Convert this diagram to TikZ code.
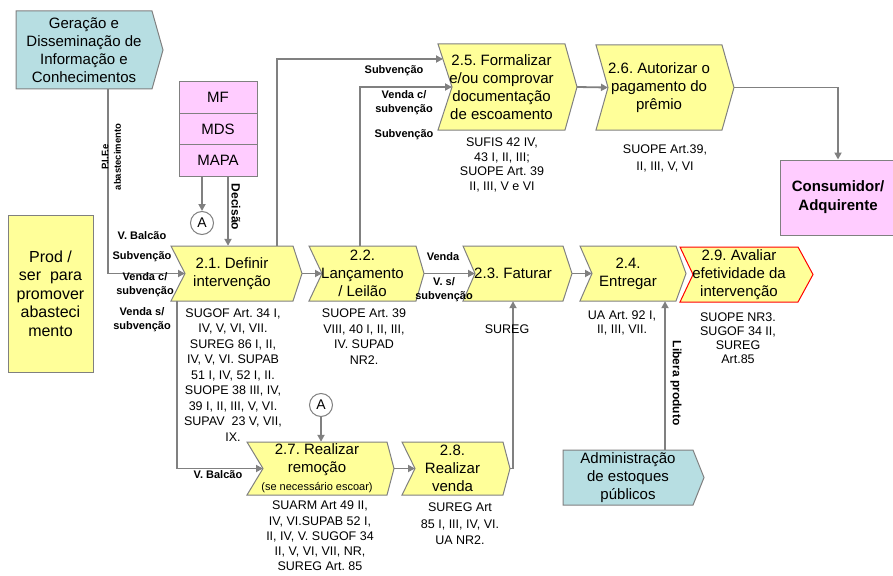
\documentclass[tikz,border=0pt]{standalone}
\usepackage{fontspec}
\setmainfont{Liberation Sans}
\usetikzlibrary{arrows.meta,calc}
\frenchspacing
\definecolor{ylw}{RGB}{255,255,153}
\definecolor{pnk}{RGB}{255,204,255}
\definecolor{tea}{RGB}{183,222,226}
\definecolor{brd}{RGB}{128,128,128}
\definecolor{cn}{RGB}{128,128,128}
\tikzset{
 chev/.style={draw=brd, line width=1pt, fill=ylw, line join=miter},
 chevtext/.style={inner sep=0pt, align=center, font=\fontsize{15}{18}\selectfont},
 reftxt/.style={align=center, inner sep=0pt, font=\fontsize{12.5}{15.5}\selectfont},
 lbl/.style={align=center, inner sep=0pt, font=\bfseries\fontsize{11}{14.5}\selectfont},
 conn/.style={draw=cn, line width=1.8pt, -{Triangle[length=7pt,width=7pt]}},
 pbox/.style={draw=brd, line width=1pt, fill=pnk, minimum width=78pt, minimum height=31.5pt, inner sep=0pt, font=\fontsize{15}{18}\selectfont},
 circA/.style={circle, draw=brd, line width=1pt, fill=white, minimum size=23pt, inner sep=0pt, font=\fontsize{14}{14}\selectfont}
}
\newcommand{\chev}[9][]{%
 \pgfmathsetmacro{\chevYm}{(#5+#6)/2}%
 \pgfmathsetmacro{\chevXn}{#3+#7}%
 \pgfmathsetmacro{\chevXt}{#4+#8}%
 \pgfmathsetmacro{\chevXc}{(#3+#4)/2}%
 \pgfmathsetmacro{\chevW}{#4-#3}%
 \pgfmathsetmacro{\chevH}{#6-#5}%
 \draw[chev,#1] (#3,#5) -- (#4,#5) -- (\chevXt,\chevYm) -- (#4,#6) -- (#3,#6) -- (\chevXn,\chevYm) -- cycle;
 \coordinate (#2-in) at (\chevXn,\chevYm);
 \coordinate (#2-out) at (\chevXt,\chevYm);
 \node[chevtext, minimum width=\chevW pt, minimum height=\chevH pt] (#2) at (\chevXc,\chevYm) {#9};
}
\begin{document}
\begin{tikzpicture}[x=1pt,y=-1pt]
\useasboundingbox (0,0) rectangle (893,575);
% source / sink boxes
\chev[fill=tea]{gera}{16}{152}{11}{89}{0}{11}{Geração e\\Disseminação de\\Informação e\\Conhecimentos}
\chev[fill=tea]{admin}{563}{693}{450}{505}{0}{11}{Administração\\de estoques\\públicos}
\node[draw=brd, line width=1pt, fill=ylw, minimum width=85pt, minimum height=157pt, inner sep=0pt, align=center, font=\fontsize{16}{18.5}\selectfont] (prod) at (50.5,293.5) {Prod /\\ser~ para\\promover\\abasteci\\mento};
\node[draw=brd, line width=1pt, fill=pnk, minimum width=116pt, minimum height=75pt, inner sep=0pt, align=center, font=\bfseries\fontsize{15}{19}\selectfont] (cons) at (838,197.5) {Consumidor/\\Adquirente};
\node[pbox] (mf) at (218,97.5) {MF};
\node[pbox] (mds) at (218,129) {MDS};
\node[pbox] (mapa) at (218,160.5) {MAPA};
% process chevrons
\chev{c21}{171}{293}{246}{301}{14}{9}{2.1. Definir\\intervenção}
\chev{c22}{309}{416}{246}{301}{13}{8}{2.2.\\Lançamento\\/ Leilão}
\chev{c23}{463}{563}{246}{301}{12}{9}{2.3. Faturar}
\chev{c24}{580}{676}{246}{301}{12}{10}{2.4.\\Entregar}
\chev[draw=red]{c29}{680}{798}{247}{302}{13}{15}{2.9. Avaliar\\efetividade da\\intervenção}
\chev{c25}{438}{565}{44}{130}{14}{12}{2.5. Formalizar\\e/ou comprovar\\documentação\\de escoamento}
\chev{c26}{596}{722}{45}{130}{12}{12}{2.6. Autorizar o\\pagamento do\\prêmio}
\chev{c27}{247}{387}{442}{495}{16}{7}{2.7. Realizar\\remoção\\{\fontsize{11}{12}\selectfont (se necessário escoar)}}
\chev{c28}{402}{503}{442}{495}{13}{7}{2.8.\\Realizar\\venda}
% connector circles
\node[circA] (a1) at (202,223) {A};
\node[circA] (a2) at (321,405) {A};
% bend coordinates
\coordinate (pif) at (108,0);
\coordinate (dec) at (228,0);
\coordinate (k1) at (277,0);
\coordinate (k1e) at (443,59);
\coordinate (k2) at (360,0);
\coordinate (k3) at (177,0);
\coordinate (lib) at (665,0);
% connectors
\draw[conn] (gera.south -| pif) |- (c21-in);
\draw[conn] (mapa.south -| a1) -- (a1.north);
\draw[conn] (mapa.south -| dec) -- (c21.north -| dec);
\draw[conn] (c21.north -| k1) |- (k1e);
\draw[conn] (c22.north -| k2) |- (c25-in);
\draw[conn] (c21-out) -- (c22-in);
\draw[conn] (c22-out) -- (c23-in);
\draw[conn] (c23-out) -- (c24-in);
\draw[conn] (c25-out) -- (c26-in);
\draw[conn] (c26-out) -| (cons.north);
\draw[conn] (c21.south -| k3) |- (c27-in);
\draw[conn] (a2.south) -- (c27.north -| a2);
\draw[conn] (c27-out) -- (c28-in);
\draw[conn] (c28-out) -| (c23.south);
\draw[conn] (admin.north -| lib) -- (c24.south -| lib);
% connector labels
\node[lbl, rotate=90, font=\bfseries\fontsize{9.5}{12.5}\selectfont] (lpif) at (111.5,157) {P.I.F.e\\abastecimento};
\node[lbl, rotate=-90, font=\bfseries\fontsize{12}{14}\selectfont] (ldec) at (236,207) {Decisão};
\node[lbl, rotate=-90, font=\bfseries\fontsize{12}{14}\selectfont] (llib) at (676,383) {Libera produto};
\node[lbl] (l1) at (394,71) {Subvenção};
\node[lbl] (l2) at (404,102.5) {Venda c/\\subvenção};
\node[lbl] (l3) at (404,135) {Subvenção};
\node[lbl] (l4) at (443,257) {Venda};
\node[lbl] (l5) at (444,289.5) {V. s/\\subvenção};
\node[lbl] (l6) at (142,236) {V. Balcão};
\node[lbl] (l7) at (142,257) {Subvenção};
\node[lbl] (l8) at (145,284.5) {Venda c/\\subvenção};
\node[lbl] (l9) at (142,319.5) {Venda s/\\subvenção};
\node[lbl] (l10) at (218,475) {V. Balcão};
% regulation texts
\node[reftxt] (r21) at (233,375) {SUGOF Art. 34 I,\\IV, V, VI, VII.\\SUREG 86 I, II,\\IV, V, VI. SUPAB\\51 I, IV, 52 I, II.\\SUOPE 38 III, IV,\\39 I, II, III, V, VI.\\SUPAV~ 23 V, VII,\\IX.};
\node[reftxt] (r22) at (364,336.5) {SUOPE Art. 39\\VIII, 40 I, II, III,\\IV. SUPAD\\NR2.};
\node[reftxt] (r23) at (507,329) {SUREG};
\node[reftxt, font=\fontsize{12.5}{14}\selectfont] (r24) at (622,323) {UA Art. 92 I,\\II, III, VII.};
\node[reftxt, font=\fontsize{12.5}{14}\selectfont] (r29) at (738,338) {SUOPE NR3.\\SUGOF 34 II,\\SUREG\\Art.85};
\node[reftxt, font=\fontsize{12.5}{14.7}\selectfont] (r25) at (502,165) {SUFIS 42 IV,\\43 I, II, III;\\SUOPE Art. 39\\II, III, V e VI};
\node[reftxt, font=\fontsize{12.5}{17}\selectfont] (r26) at (665,158.5) {SUOPE Art.39,\\II, III, V, VI};
\node[reftxt, font=\fontsize{12.5}{15.3}\selectfont] (r27) at (320,536) {SUARM Art 49 II,\\IV, VI.SUPAB 52 I,\\II, IV, V. SUGOF 34\\II, V, VI, VII, NR,\\SUREG Art. 85};
\node[reftxt, font=\fontsize{12.5}{16.5}\selectfont] (r28) at (460,524) {SUREG Art\\85 I, III, IV, VI.\\UA NR2.};
\end{tikzpicture}
\end{document}
